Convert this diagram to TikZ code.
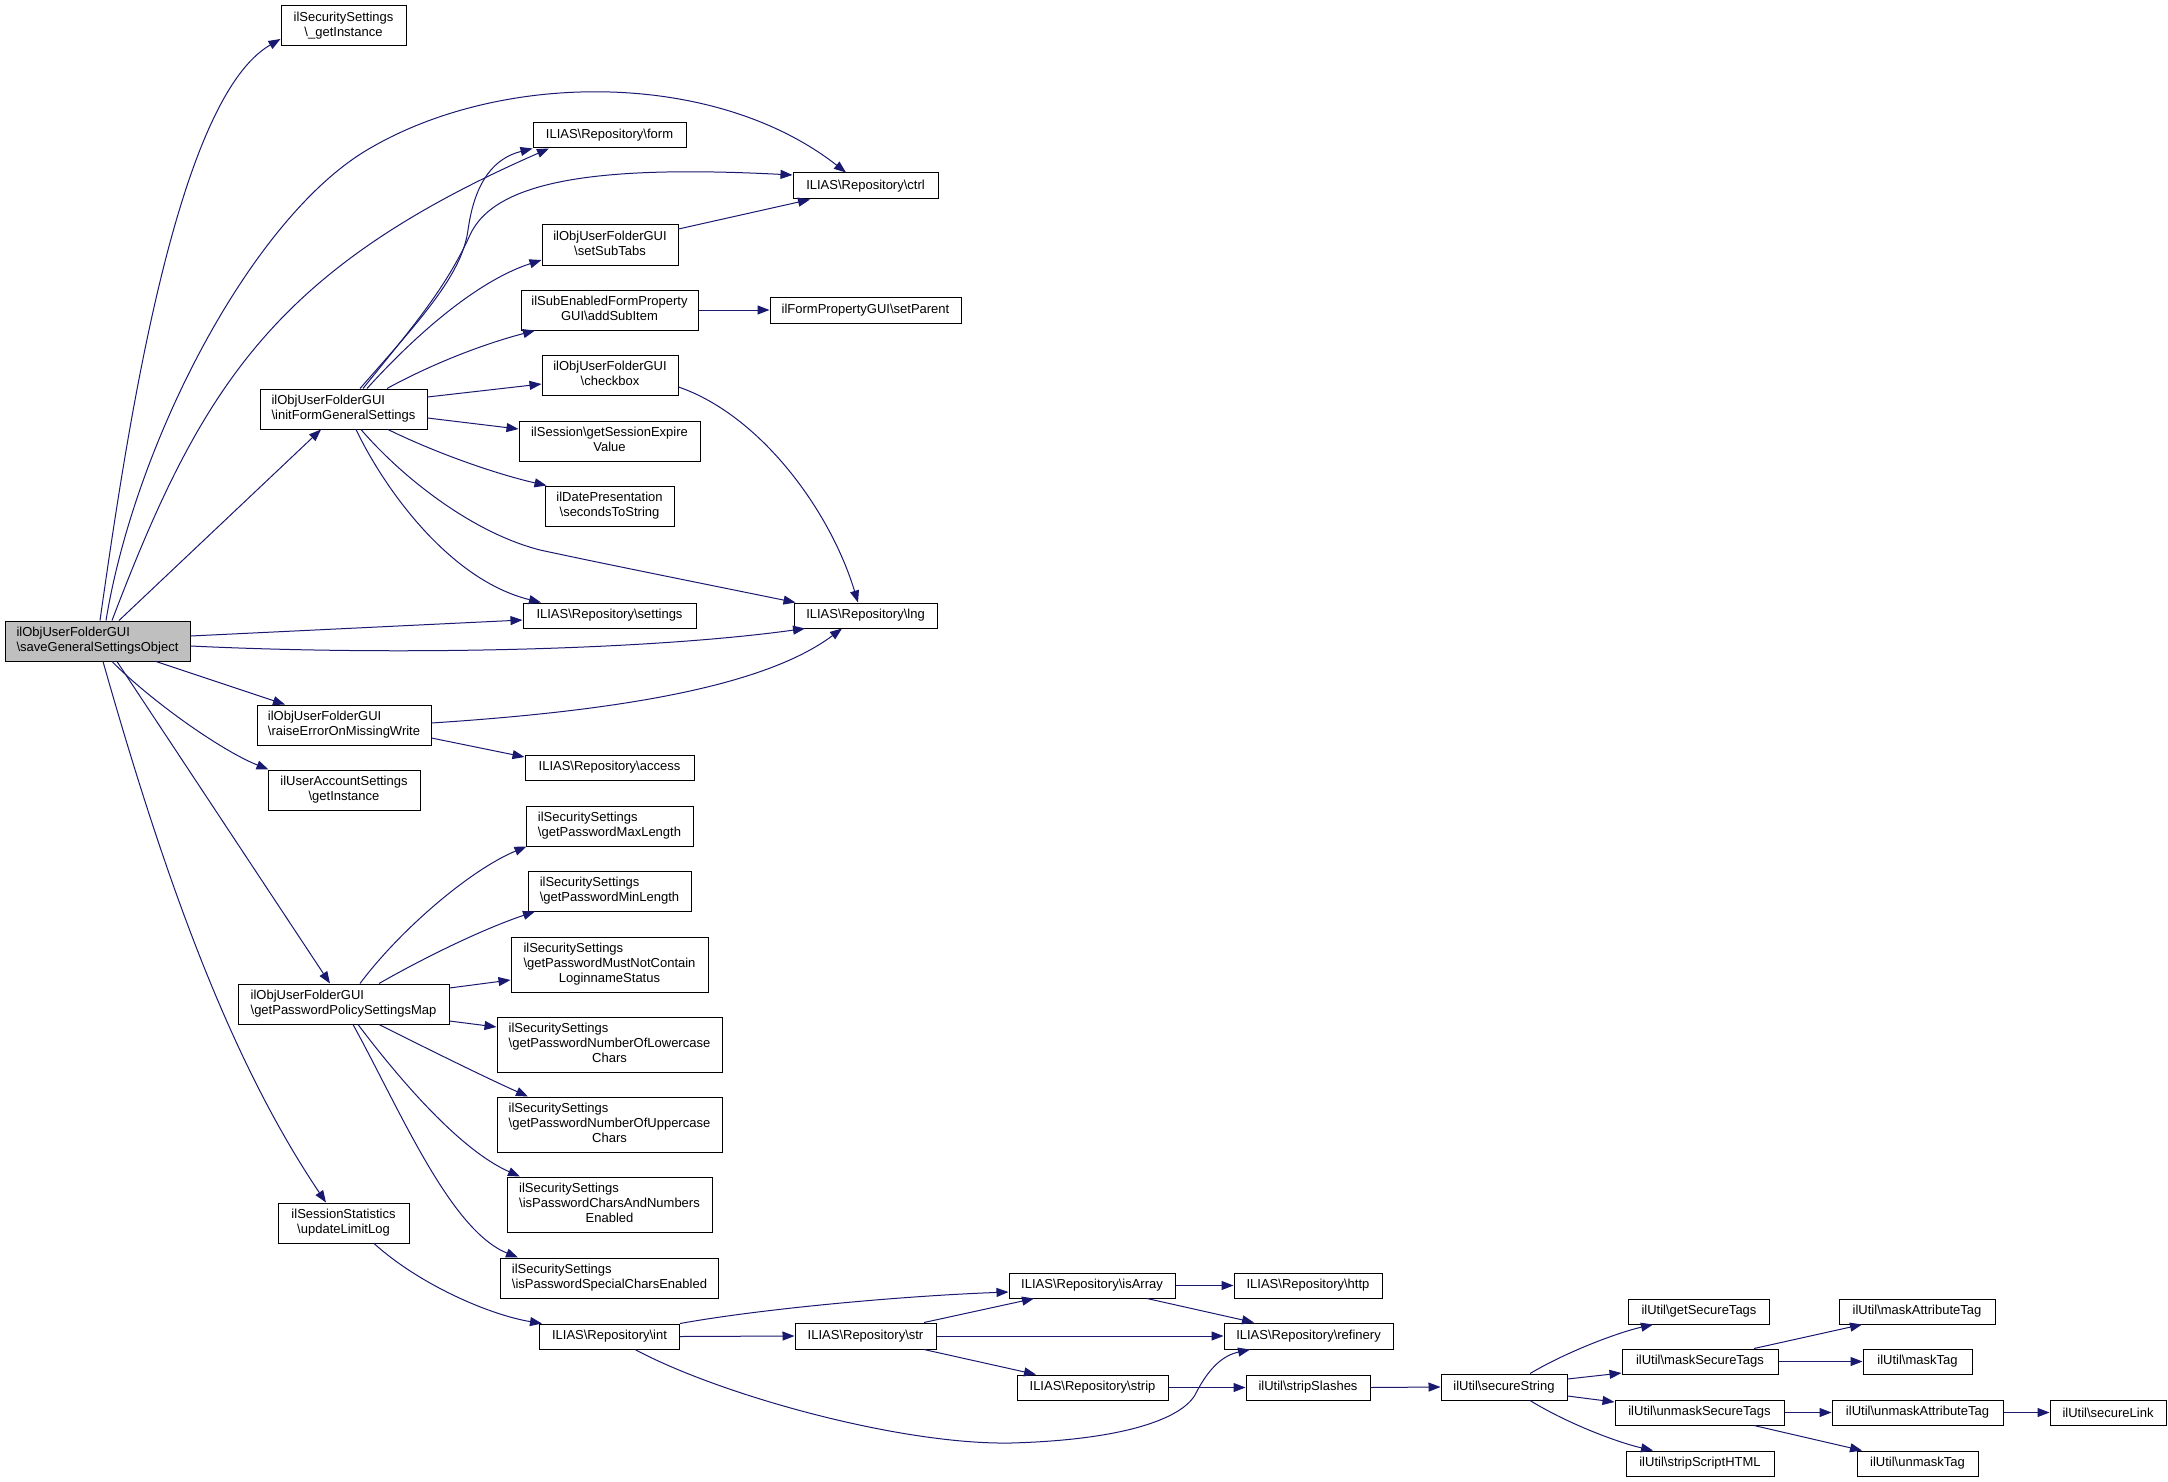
\documentclass[tikz,border=0pt]{standalone}
\usepackage{fontspec}
\setmainfont{Liberation Sans}
\usetikzlibrary{arrows.meta}
\definecolor{edgeblue}{HTML}{191970}
\definecolor{mainfill}{HTML}{BFBFBF}
\newcommand{\BS}{\textbackslash}
\newcommand{\twoline}[2]{\begin{tabular}{@{}l@{}}#1\\\multicolumn{1}{@{}c@{}}{#2}\end{tabular}}
\newcommand{\threeline}[3]{\begin{tabular}{@{}l@{}}#1\\#2\\\multicolumn{1}{@{}c@{}}{#3}\end{tabular}}
\begin{document}
\begin{tikzpicture}[x=1pt,y=-1pt,
  box/.style={draw=black, fill=white, line width=1pt, inner xsep=3pt, inner ysep=2pt,
    font=\fontsize{13}{15}\selectfont, anchor=center},
  edge/.style={draw=edgeblue, line width=1pt, -{Triangle[length=12pt,width=9pt]}},
]
\useasboundingbox (0,0) rectangle (2168,1482);
\fill[white] (0,0) rectangle (2168,1482);

% nodes
\node[box, fill=mainfill, minimum width=185pt, minimum height=40pt] (main) at (97.5,641) {\twoline{ilObjUserFolderGUI}{\BS saveGeneralSettingsObject}};
\node[box, minimum width=125pt, minimum height=40pt] (secinst) at (343.5,26) {\twoline{ilSecuritySettings}{\BS\_getInstance}};
\node[box, minimum width=153pt, minimum height=25pt] (form) at (609.5,135.5) {ILIAS\BS Repository\BS form};
\node[box, minimum width=145pt, minimum height=26pt] (ctrl) at (865.5,186) {ILIAS\BS Repository\BS ctrl};
\node[box, minimum width=136pt, minimum height=40pt] (subtabs) at (610,245) {\twoline{ilObjUserFolderGUI}{\BS setSubTabs}};
\node[box, minimum width=177pt, minimum height=40pt] (addsub) at (609.5,310) {\twoline{ilSubEnabledFormProperty}{GUI\BS addSubItem}};
\node[box, minimum width=191pt, minimum height=26pt] (setparent) at (865.5,310) {ilFormPropertyGUI\BS setParent};
\node[box, minimum width=136pt, minimum height=40pt] (checkbox) at (610,375) {\twoline{ilObjUserFolderGUI}{\BS checkbox}};
\node[box, minimum width=167pt, minimum height=40pt] (initform) at (343.5,409) {\twoline{ilObjUserFolderGUI}{\BS initFormGeneralSettings}};
\node[box, minimum width=181pt, minimum height=40pt] (sessexp) at (609.5,441) {\twoline{ilSession\BS getSessionExpire}{Value}};
\node[box, minimum width=129pt, minimum height=40pt] (datepres) at (609.5,506) {\twoline{ilDatePresentation}{\BS secondsToString}};
\node[box, minimum width=173pt, minimum height=25pt] (settings) at (609.5,615.5) {ILIAS\BS Repository\BS settings};
\node[box, minimum width=143pt, minimum height=25pt] (lng) at (865.5,615.5) {ILIAS\BS Repository\BS lng};
\node[box, minimum width=174pt, minimum height=40pt] (raise) at (344,725) {\twoline{ilObjUserFolderGUI}{\BS raiseErrorOnMissingWrite}};
\node[box, minimum width=169pt, minimum height=25pt] (access) at (609.5,767.5) {ILIAS\BS Repository\BS access};
\node[box, minimum width=152pt, minimum height=40pt] (uaccinst) at (344,790) {\twoline{ilUserAccountSettings}{\BS getInstance}};
\node[box, minimum width=167pt, minimum height=40pt] (maxlen) at (609.5,826) {\twoline{ilSecuritySettings}{\BS getPasswordMaxLength}};
\node[box, minimum width=163pt, minimum height=40pt] (minlen) at (609.5,891) {\twoline{ilSecuritySettings}{\BS getPasswordMinLength}};
\node[box, minimum width=197pt, minimum height=55pt] (mustnot) at (609.5,964.5) {\threeline{ilSecuritySettings}{\BS getPasswordMustNotContain}{LoginnameStatus}};
\node[box, minimum width=225pt, minimum height=55pt] (lower) at (609.5,1044.5) {\threeline{ilSecuritySettings}{\BS getPasswordNumberOfLowercase}{Chars}};
\node[box, minimum width=225pt, minimum height=55pt] (upper) at (609.5,1124.5) {\threeline{ilSecuritySettings}{\BS getPasswordNumberOfUppercase}{Chars}};
\node[box, minimum width=205pt, minimum height=55pt] (charsnum) at (609.5,1204.5) {\threeline{ilSecuritySettings}{\BS isPasswordCharsAndNumbers}{Enabled}};
\node[box, minimum width=218pt, minimum height=40pt] (special) at (609.5,1278) {\twoline{ilSecuritySettings}{\BS isPasswordSpecialCharsEnabled}};
\node[box, minimum width=211pt, minimum height=40pt] (pwmap) at (343.5,1004) {\twoline{ilObjUserFolderGUI}{\BS getPasswordPolicySettingsMap}};
\node[box, minimum width=131pt, minimum height=40pt] (limitlog) at (343.5,1223) {\twoline{ilSessionStatistics}{\BS updateLimitLog}};
\node[box, minimum width=140pt, minimum height=25pt] (int) at (609.5,1336.5) {ILIAS\BS Repository\BS int};
\node[box, minimum width=166pt, minimum height=25pt] (isarray) at (1092,1285.5) {ILIAS\BS Repository\BS isArray};
\node[box, minimum width=148pt, minimum height=25pt] (http) at (1308,1285.5) {ILIAS\BS Repository\BS http};
\node[box, minimum width=141pt, minimum height=26pt] (str) at (865.5,1336) {ILIAS\BS Repository\BS str};
\node[box, minimum width=169pt, minimum height=26pt] (refinery) at (1308.5,1336) {ILIAS\BS Repository\BS refinery};
\node[box, minimum width=151pt, minimum height=25pt] (strip) at (1092.5,1387.5) {ILIAS\BS Repository\BS strip};
\node[box, minimum width=124pt, minimum height=25pt] (stripsl) at (1308,1387.5) {ilUtil\BS stripSlashes};
\node[box, minimum width=126pt, minimum height=26pt] (secstr) at (1504,1387) {ilUtil\BS secureString};
\node[box, minimum width=141pt, minimum height=25pt] (getsec) at (1699,1311.5) {ilUtil\BS getSecureTags};
\node[box, minimum width=156pt, minimum height=25pt] (masksec) at (1700,1361.5) {ilUtil\BS maskSecureTags};
\node[box, minimum width=169pt, minimum height=25pt] (unmasksec) at (1699.5,1412.5) {ilUtil\BS unmaskSecureTags};
\node[box, minimum width=148pt, minimum height=25pt] (stripscr) at (1700,1463.5) {ilUtil\BS stripScriptHTML};
\node[box, minimum width=156pt, minimum height=25pt] (maskattr) at (1917,1311.5) {ilUtil\BS maskAttributeTag};
\node[box, minimum width=109pt, minimum height=25pt] (masktag) at (1917.5,1361.5) {ilUtil\BS maskTag};
\node[box, minimum width=171pt, minimum height=25pt] (unmaskattr) at (1917.5,1412.5) {ilUtil\BS unmaskAttributeTag};
\node[box, minimum width=121pt, minimum height=25pt] (unmasktag) at (1917.5,1463.5) {ilUtil\BS unmaskTag};
\node[box, minimum width=116pt, minimum height=25pt] (seclink) at (2108,1412.5) {ilUtil\BS secureLink};

% edges from main
\draw[edge] ([xshift=2.5pt]main.north) .. controls (128,423) and (177,99) .. ([yshift=-13pt]secinst.west);
\draw[edge] ([xshift=8.5pt]main.north) .. controls (135,443) and (251,219) .. (367,150) .. controls (501,70) and (715,70) .. ([xshift=-19.5pt]ctrl.north);
\draw[edge] ([xshift=14.5pt]main.north) .. controls (201,387) and (274,269) .. ([xshift=-60.5pt]form.south);
\draw[edge] ([xshift=21.5pt]main.north) -- ([xshift=-22.5pt]initform.south);
\draw[edge] ([yshift=5pt]main.east) -- ([yshift=-4.5pt]settings.west);
\draw[edge] ([yshift=-5pt]main.east) .. controls (400,656) and (650,650) .. ([xshift=-60.5pt]lng.south);
\draw[edge] ([xshift=58.5pt]main.south) -- ([xshift=-59pt]raise.north);
\draw[edge] ([xshift=14.5pt]main.south) .. controls (150,700) and (220,750) .. ([xshift=1pt]uaccinst.north west);
\draw[edge] ([xshift=19.5pt]main.south) -- ([xshift=-13.5pt]pwmap.north);
\draw[edge] ([xshift=5.5pt]main.south) .. controls (165,880) and (230,1060) .. ([xshift=-17.5pt]limitlog.north);

% edges from initFormGeneralSettings
\draw[edge] ([xshift=16.5pt]initform.north) .. controls (420,320) and (462,275) .. (468,230) .. controls (475,180) and (495,158) .. (form.south west);
\draw[edge] ([xshift=19.5pt]initform.north) .. controls (410,330) and (445,290) .. (470,235) .. controls (495,180) and (600,165) .. ([yshift=11pt]ctrl.west);
\draw[edge] ([xshift=23.5pt]initform.north) .. controls (420,330) and (480,280) .. ([yshift=-15pt]subtabs.west);
\draw[edge] ([xshift=43.5pt]initform.north) .. controls (430,365) and (480,345) .. ([xshift=-74.5pt]addsub.south);
\draw[edge] ([yshift=12pt]initform.east) -- ([yshift=-9pt]checkbox.west);
\draw[edge] ([yshift=-9pt]initform.east) -- ([yshift=12pt]sessexp.west);
\draw[edge] ([xshift=44.5pt]initform.south) .. controls (440,455) and (500,475) .. ([xshift=2pt]datepres.north west);
\draw[edge] ([xshift=12.5pt]initform.south) .. controls (385,490) and (450,580) .. ([xshift=-68.5pt]settings.north);
\draw[edge] ([xshift=17.5pt]initform.south) .. controls (400,475) and (470,532) .. (540,550) .. controls (600,563) and (700,583) .. ([xshift=2pt]lng.north west);

% other upper edges
\draw[edge] ([yshift=16pt]subtabs.east) -- ([xshift=-55.5pt]ctrl.south);
\draw[edge] (addsub.east) -- (setparent.west);
\draw[edge] ([yshift=-12pt]checkbox.east) .. controls (760,415) and (830,510) .. ([xshift=-7.5pt]lng.north);
\draw[edge] ([yshift=2pt]raise.east) .. controls (600,712) and (760,690) .. ([xshift=-23.5pt]lng.south);
\draw[edge] ([yshift=-13pt]raise.east) -- ([yshift=10.5pt]access.west);

% password policy edges
\draw[edge] ([xshift=16.5pt]pwmap.north) .. controls (400,930) and (470,870) .. ([xshift=1pt]maxlen.south west);
\draw[edge] ([xshift=35.5pt]pwmap.north) .. controls (420,960) and (480,930) .. ([xshift=-74.5pt]minlen.south);
\draw[edge] ([yshift=16pt]pwmap.east) -- ([yshift=-15.5pt]mustnot.west);
\draw[edge] ([yshift=-17pt]pwmap.east) -- ([yshift=17.5pt]lower.west);
\draw[edge] ([xshift=35.5pt]pwmap.south) .. controls (420,1045) and (480,1075) .. ([xshift=-81.5pt]upper.north);
\draw[edge] ([xshift=14.5pt]pwmap.south) .. controls (400,1080) and (460,1150) .. ([xshift=-89.5pt]charsnum.north);
\draw[edge] ([xshift=9.5pt]pwmap.south) .. controls (400,1110) and (450,1230) .. ([xshift=-91.5pt]special.north);

% lower chain
\draw[edge] ([xshift=30.5pt]limitlog.south) .. controls (420,1285) and (490,1315) .. ([xshift=3pt]int.north west);
\draw[edge] (int.north east) .. controls (760,1309) and (900,1296) .. ([yshift=-6.5pt]isarray.west);
\draw[edge] (int.east) -- (str.west);
\draw[edge] ([xshift=25.5pt]int.south) .. controls (720,1395) and (900,1445) .. (1011,1443) .. controls (1120,1440) and (1180,1420) .. (1195,1395) .. controls (1210,1365) and (1225,1355) .. ([xshift=-58.5pt]refinery.south);
\draw[edge] ([xshift=58.5pt]str.north) -- ([xshift=-58pt]isarray.south);
\draw[edge] (str.east) -- (refinery.west);
\draw[edge] ([xshift=58.5pt]str.south) -- ([xshift=-56.5pt]strip.north);
\draw[edge] (isarray.east) -- (http.west);
\draw[edge] ([xshift=55pt]isarray.south) -- ([xshift=-54.5pt]refinery.north);
\draw[edge] (strip.east) -- (stripsl.west);
\draw[edge] (stripsl.east) -- (secstr.west);
\draw[edge] ([xshift=26pt]secstr.north) .. controls (1570,1350) and (1620,1332) .. ([xshift=-46pt]getsec.south);
\draw[edge] ([yshift=8pt]secstr.east) -- ([yshift=-11.5pt]masksec.west);
\draw[edge] ([yshift=-9pt]secstr.east) -- ([yshift=10.5pt]unmasksec.west);
\draw[edge] ([xshift=26pt]secstr.south) .. controls (1570,1425) and (1620,1443) .. ([xshift=-47pt]stripscr.north);
\draw[edge] ([xshift=54pt]masksec.north) -- ([xshift=-55pt]maskattr.south);
\draw[edge] (masksec.east) -- (masktag.west);
\draw[edge] (unmasksec.east) -- (unmaskattr.west);
\draw[edge] ([xshift=54.5pt]unmasksec.south) -- ([xshift=-55.5pt]unmasktag.north);
\draw[edge] (unmaskattr.east) -- (seclink.west);
\end{tikzpicture}
\end{document}
